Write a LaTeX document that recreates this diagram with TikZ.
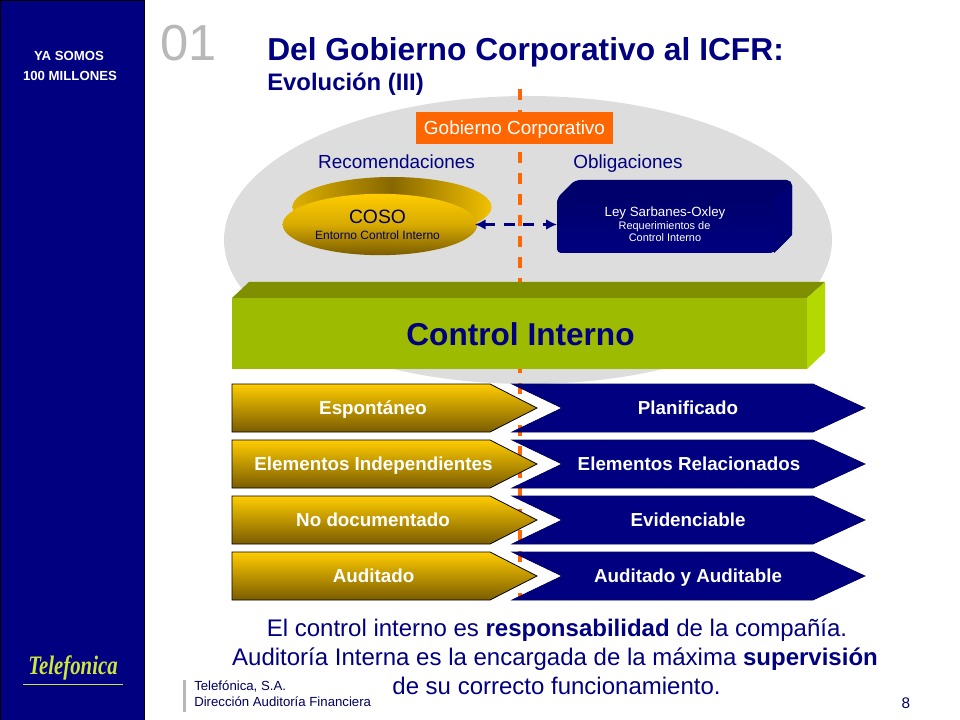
\documentclass[tikz,border=0pt]{standalone}
\usepackage{fontspec}
\usepackage{xcolor}
\setmainfont{Liberation Sans}
\newfontfamily\logofont[FakeStretch=0.78]{Liberation Serif}
\usetikzlibrary{arrows.meta,shapes.geometric}
\definecolor{navyblue}{HTML}{000080}
\definecolor{navydark}{HTML}{00005E}
\definecolor{navybevel}{HTML}{00006C}
\definecolor{slidegray}{HTML}{DDDDDD}
\definecolor{numgray}{HTML}{B8B8B8}
\definecolor{orangeline}{HTML}{FF6600}
\definecolor{goldtop}{HTML}{FFCC00}
\definecolor{goldlow}{HTML}{7A5C00}
\definecolor{greenfront}{HTML}{9DBB00}
\definecolor{greentop}{HTML}{7F8F00}
\definecolor{greenside}{HTML}{B4D900}
\definecolor{logogreen}{HTML}{CDE63C}
\tikzset{
    rowtext/.style={text=white,anchor=base,font=\bfseries\fontsize{14.1}{16}\selectfont,inner sep=0pt},
    goldarrow/.style={draw=black,line width=0.6pt,top color=goldtop,bottom color=goldlow},
    bluearrow/.style={fill=navyblue,draw=navydark,line width=0.5pt},
    navytext/.style={text=navyblue,anchor=base,inner sep=0pt},
    bandtext/.style={text=white,anchor=base,font=\bfseries\fontsize{9.9}{11}\selectfont,inner sep=0pt}
}
\begin{document}
\begin{tikzpicture}[x=0.75pt,y=-0.75pt]
    \useasboundingbox (0,0) rectangle (960,720);
    % side band
    \draw[fill=navyblue,draw=black,line width=0.6pt] (0,0) rectangle (144,720);
    \node[bandtext] (somos) at (69,61) {YA SOMOS};
    \node[bandtext] (millones) at (70,81) {100 MILLONES};
    \node[text=logogreen,font=\logofont\itshape\bfseries\fontsize{20}{22}\selectfont,inner sep=0pt] (logo) at (73,668) {Telefonica};
    \draw[logogreen,line width=0.6pt] (23,684) -- (123,684);
    % heading
    \node[text=numgray,anchor=base,font=\fontsize{38}{42}\selectfont,inner sep=0pt] (number) at (189,61) {01};
    \node[navytext,anchor=base west,font=\bfseries\fontsize{23.8}{26}\selectfont] (title) at (267,61) {Del Gobierno Corporativo al ICFR:};
    \node[navytext,anchor=base west,font=\bfseries\fontsize{17.9}{20}\selectfont] (subtitle) at (267,91) {Evolución (III)};
    % background
    \fill[slidegray] (528,240) ellipse (304 and 144);
    \coordinate (linetop) at (520,89);
    \coordinate (linelow) at (520,600);
    \draw[orangeline,line width=2.3pt,dash pattern=on 8.25pt off 7.5pt] (linetop) -- (linelow);
    \node[fill=orangeline,text=white,minimum width=148pt,minimum height=24pt,text height=12.8pt,text depth=3pt,inner sep=0pt,font=\fontsize{14.2}{16}\selectfont] (gobierno) at (514.5,128) {Gobierno Corporativo};
    \node[navytext,font=\fontsize{14.2}{16}\selectfont] (recomendaciones) at (396.5,169) {Recomendaciones};
    \node[navytext,font=\fontsize{14.2}{16}\selectfont] (obligaciones) at (628,169) {Obligaciones};
    % left box
    \shade[left color=goldtop!75!goldlow,right color=goldtop!90!goldlow,middle color=goldlow!90!goldtop] (392,207) ellipse (99.5 and 30);
    \node[ellipse,minimum width=146pt,minimum height=46pt,inner sep=0pt,top color=goldtop,bottom color=goldlow,middle color=goldtop!70!goldlow] (coso) at (380,224.5) {};
    \node[text=navydark,anchor=base,font=\fontsize{14.5}{16}\selectfont,inner sep=0pt] (cosoname) at (377.5,224) {COSO};
    \node[text=navydark,anchor=base,font=\fontsize{9}{11}\selectfont,inner sep=0pt] (cosotext) at (377.5,240) {Entorno Control Interno};
    % right box
    \fill[navybevel,rounded corners=4pt] (575,180) -- (792,180) -- (792,235) -- (774,253) -- (557,253) -- (557,198) -- cycle;
    \fill[navyblue!92!black] (792,185) -- (792,235) -- (774,253) -- (774,198) -- cycle;
    \shade[top color=navybevel,bottom color=navyblue,rounded corners=3pt] (557,198) -- (774,198) -- (774,253) -- (557,253) -- cycle;
    \node[minimum width=176pt,minimum height=42.75pt,inner sep=0pt] (ley) at (674.5,224.5) {};
    \node[text=white,anchor=base,font=\fontsize{10}{12}\selectfont,inner sep=0pt] (leyname) at (665,217) {Ley Sarbanes-Oxley};
    \node[text=white,anchor=base,font=\fontsize{8.2}{10}\selectfont,inner sep=0pt] (leytext) at (664.5,229.3) {Requerimientos de};
    \node[text=white,anchor=base,font=\fontsize{8.2}{10}\selectfont,inner sep=0pt] (leymore) at (665,242) {Control Interno};
    \draw[navyblue,line width=2.4pt,dash pattern=on 8pt off 6.5pt,shorten <=-2pt,{Latex[length=8pt,width=8pt]}-{Latex[length=8pt,width=8pt]}] (coso.east) -- (ley.west);
    % green block
    \fill[greentop] (232,298) -- (249,282) -- (825,282) -- (807,298) -- cycle;
    \fill[greenside] (807,298) -- (825,282) -- (825,352) -- (807,369) -- cycle;
    \node[anchor=north west,fill=greenfront,minimum width=431.25pt,minimum height=53.25pt,inner sep=0pt] (control) at (232,298) {};
    \node[navytext,font=\bfseries\fontsize{23.7}{26}\selectfont] (controlname) at (520.5,345) {Control Interno};
    % arrows, right side
    \draw[bluearrow] (512,384) -- (813,384) -- (865,408) -- (813,432) -- (512,432) -- (562,408) -- cycle;
    \draw[bluearrow] (512,440) -- (813,440) -- (865,464) -- (813,488) -- (512,488) -- (562,464) -- cycle;
    \draw[bluearrow] (512,496) -- (813,496) -- (865,520) -- (813,544) -- (512,544) -- (562,520) -- cycle;
    \draw[bluearrow] (512,552) -- (813,552) -- (865,576) -- (813,600) -- (512,600) -- (562,576) -- cycle;
    % arrows, left side
    \draw[goldarrow] (232,384) -- (490,384) -- (537,408) -- (490,432) -- (232,432) -- cycle;
    \draw[goldarrow] (232,440) -- (490,440) -- (537,464) -- (490,488) -- (232,488) -- cycle;
    \draw[goldarrow] (232,496) -- (490,496) -- (537,520) -- (490,544) -- (232,544) -- cycle;
    \draw[goldarrow] (232,552) -- (490,552) -- (537,576) -- (490,600) -- (232,600) -- cycle;
    \node[rowtext] (espontaneo) at (373,414.5) {Espontáneo};
    \node[rowtext] (independientes) at (373.5,470.5) {Elementos Independientes};
    \node[rowtext] (documentado) at (373,526.5) {No documentado};
    \node[rowtext] (auditado) at (373.5,582.5) {Auditado};
    \node[rowtext] (planificado) at (688,414.5) {Planificado};
    \node[rowtext] (relacionados) at (689,470.5) {Elementos Relacionados};
    \node[rowtext] (evidenciable) at (688,526.5) {Evidenciable};
    \node[rowtext] (auditable) at (688,582.5) {Auditado y Auditable};
    % closing text
    \node[navytext,font=\fontsize{18}{20}\selectfont] (lineone) at (557,636) {El control interno es \textbf{responsabilidad} de la compañía.};
    \node[navytext,font=\fontsize{18}{20}\selectfont] (linetwo) at (555,665) {Auditoría Interna es la encargada de la máxima \textbf{supervisión}};
    \node[navytext,font=\fontsize{18}{20}\selectfont] (linethree) at (556.5,694) {de su correcto funcionamiento.};
    % footer
    \fill[numgray] (183,680) rectangle (186,712);
    \node[text=navydark,anchor=base west,font=\fontsize{9.9}{11}\selectfont,inner sep=0pt] (company) at (194,690.5) {Telefónica, S.A.};
    \node[text=navydark,anchor=base west,font=\fontsize{9.9}{11}\selectfont,inner sep=0pt] (unit) at (194,706) {Dirección Auditoría Financiera};
    \node[text=navydark,font=\fontsize{11.5}{13}\selectfont,inner sep=0pt] (page) at (906,703) {8};
\end{tikzpicture}
\end{document}
